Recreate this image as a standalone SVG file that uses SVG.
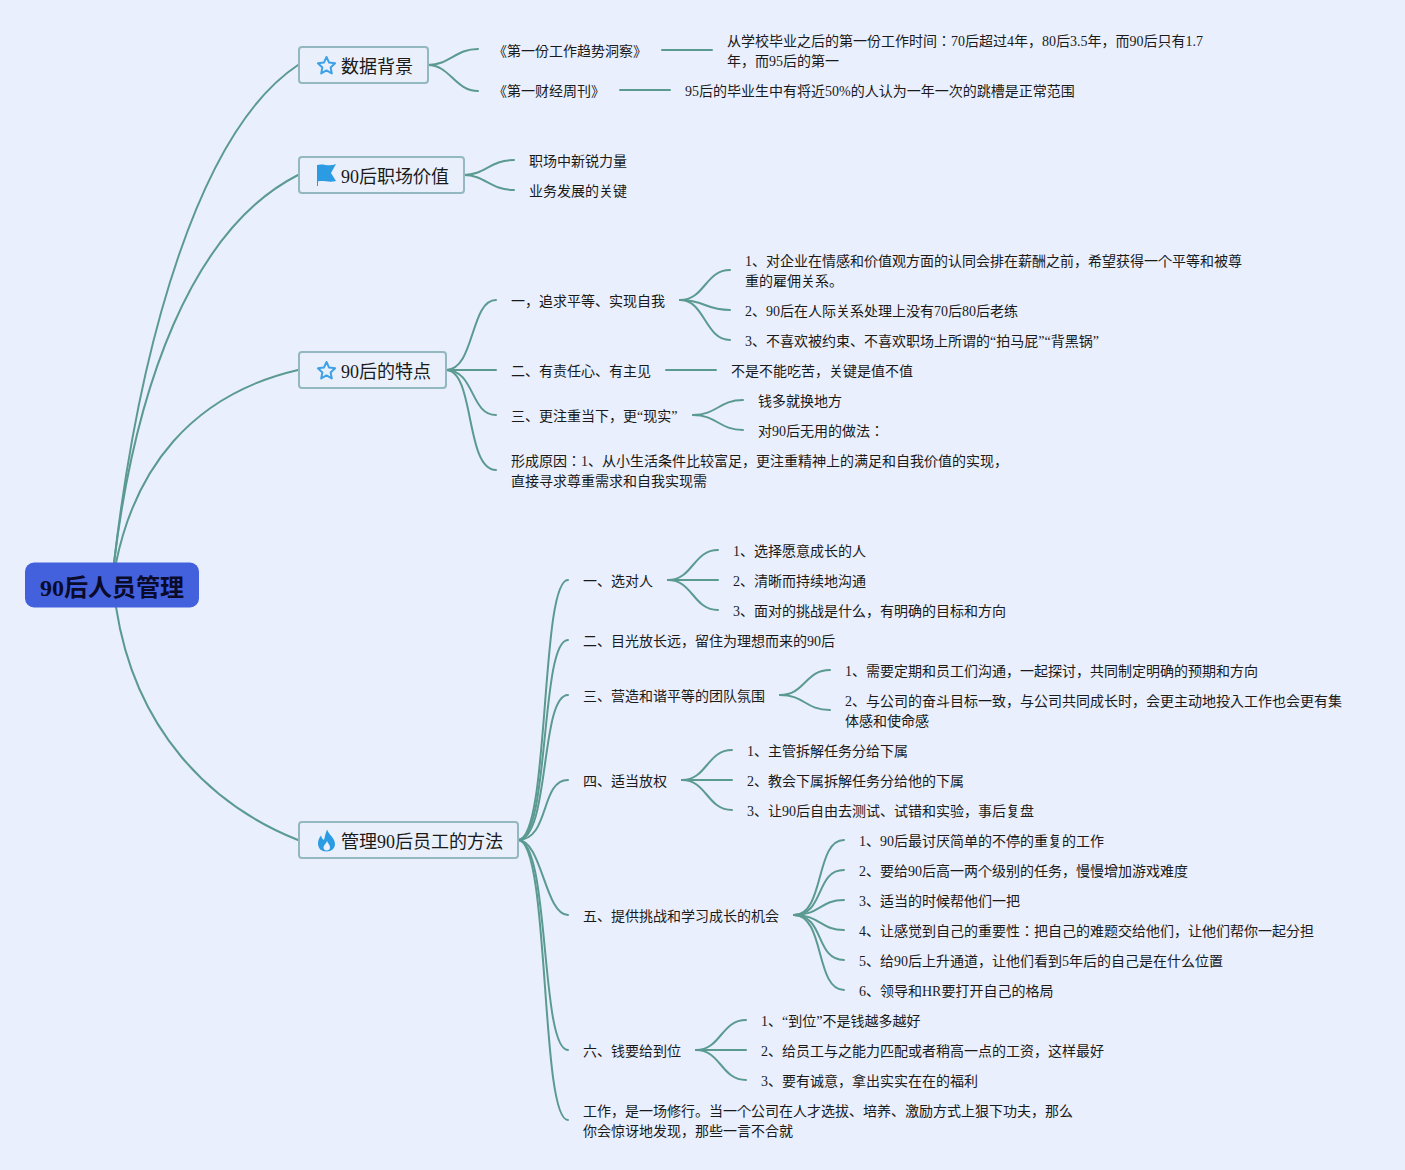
<svg xmlns="http://www.w3.org/2000/svg" width="1405" height="1170" viewBox="0 0 1405 1170">
<defs>
<style>
text{font-family:"Liberation Serif","Noto Sans CJK JP",serif;fill:#1a1a1a}
.t{font-size:14px}
.h{font-size:18px}
.r{font-size:24px;font-weight:bold;fill:#0a0a2a}
.box{fill:#e9f0fc;stroke:#94b8bf;stroke-width:2}
#links path{fill:none;stroke:#5b9a91;stroke-width:2;stroke-linecap:round}
.icon{fill:#2b9be3}
.star{fill:none;stroke:#3ea0e6;stroke-width:2;stroke-linejoin:round}
</style>
<path id="star" class="star" d="M0-8.500 2.600-2.900 8.600-2.200 4.100 1.900 5.300 7.900 0 4.900-5.300 7.900-4.100 1.900-8.600-2.200-2.600-2.900Z"/>
</defs>
<rect width="1405" height="1170" fill="#e9effd"/>
<g id="links">
<path d="M114 563C140 340 200 130 298 65"/>
<path d="M114 563C135 390 190 230 298 175"/>
<path d="M116 563C135 470 190 395 298 370"/>
<path d="M116 607C135 730 210 805 298 840"/>
<path d="M428 65C450 65 455 49 478 49"/>
<path d="M428 65C450 65 455 91 478 91"/>
<path d="M662 50H712"/>
<path d="M620 90H670"/>
<path d="M464 175C485 175 490 160 514 160"/>
<path d="M464 175C485 175 490 190 514 190"/>
<path d="M446 370C475 370 470 300 496 300"/>
<path d="M446 370H496"/>
<path d="M446 370C475 370 470 415 496 415"/>
<path d="M446 370C475 370 465 470 496 470"/>
<path d="M680 300C705 300 705 270 730 270"/>
<path d="M680 300C705 300 705 310 730 310"/>
<path d="M680 300C705 300 705 340 730 340"/>
<path d="M666 370H716"/>
<path d="M693 415C717 415 719 400 743 400"/>
<path d="M693 415C717 415 719 430 743 430"/>
<path d="M518 840C550 840 540 580 568 580"/>
<path d="M518 840C550 840 540 640 568 640"/>
<path d="M518 840C550 840 540 695 568 695"/>
<path d="M518 840C550 840 540 780 568 780"/>
<path d="M518 840C542 840 545 915 568 915"/>
<path d="M518 840C550 840 540 1050 568 1050"/>
<path d="M518 840C550 840 540 1120 568 1120"/>
<path d="M668 580C693 580 693 550 718 550"/>
<path d="M668 580H718"/>
<path d="M668 580C693 580 693 610 718 610"/>
<path d="M780 695C805 695 805 670 830 670"/>
<path d="M780 695C805 695 805 710 830 710"/>
<path d="M682 780C707 780 707 750 732 750"/>
<path d="M682 780H732"/>
<path d="M682 780C707 780 707 810 732 810"/>
<path d="M794 915C825 915 815 840 844 840"/>
<path d="M794 915C825 915 815 870 844 870"/>
<path d="M794 915C820 915 820 900 844 900"/>
<path d="M794 915C820 915 820 930 844 930"/>
<path d="M794 915C825 915 815 960 844 960"/>
<path d="M794 915C825 915 815 990 844 990"/>
<path d="M696 1050C721 1050 721 1020 746 1020"/>
<path d="M696 1050H746"/>
<path d="M696 1050C721 1050 721 1080 746 1080"/>
</g>
<g id="root"><rect x="25" y="562.500" width="174" height="45" rx="9" fill="#4361dd"/><text class="r" x="40" y="596">90后人员管理</text></g>
<g id="n1"><rect class="box" x="299" y="47" width="129" height="36" rx="3"/><use href="#star" x="326.500" y="65.500"/><text class="h" x="341" y="73">数据背景</text></g>
<g id="n2"><rect class="box" x="299" y="157" width="165" height="36" rx="3"/><path class="icon" d="M317 165C323 163 329 167 336 164L331 173 336 181C329 183 323 180 318 181.500V186H317Z"/><text class="h" x="341" y="183">90后职场价值</text></g>
<g id="n3"><rect class="box" x="299" y="352" width="147" height="36" rx="3"/><use href="#star" x="326.500" y="370.500"/><text class="h" x="341" y="378">90后的特点</text></g>
<g id="n4"><rect class="box" x="299" y="822" width="219" height="36" rx="3"/><path class="icon" fill-rule="evenodd" d="M327 829.500C329 835 335 838 335 844 335 848.500 331.500 851.500 326.500 851.500 321.500 851.500 318 848.500 318 843.500 318 840 319.500 837.500 321 835.500 321.500 837.500 322.500 839 324 840 325 836.500 325.500 833 327 829.500ZM327 841C326.500 843.500 323.500 845 323.500 847.500 323.500 849.500 325 850.500 326.500 850.500 328.500 850.500 330 849.500 330 847.500 330 845 328 843.500 327 841Z"/><text class="h" x="341" y="848">管理90后员工的方法</text></g>
<g id="labels">
<text class="t" x="493" y="56">《第一份工作趋势洞察》</text>
<text class="t" x="727" y="46">从学校毕业之后的第一份工作时间：70后超过4年，80后3.5年，而90后只有1.7</text>
<text class="t" x="727" y="66">年，而95后的第一</text>
<text class="t" x="493" y="96">《第一财经周刊》</text>
<text class="t" x="685" y="96">95后的毕业生中有将近50%的人认为一年一次的跳槽是正常范围</text>
<text class="t" x="529" y="166">职场中新锐力量</text>
<text class="t" x="529" y="196">业务发展的关键</text>
<text class="t" x="511" y="306">一，追求平等、实现自我</text>
<text class="t" x="745" y="266">1、对企业在情感和价值观方面的认同会排在薪酬之前，希望获得一个平等和被尊</text>
<text class="t" x="745" y="286">重的雇佣关系。</text>
<text class="t" x="745" y="316">2、90后在人际关系处理上没有70后80后老练</text>
<text class="t" x="745" y="346">3、不喜欢被约束、不喜欢职场上所谓的“拍马屁”“背黑锅”</text>
<text class="t" x="511" y="376">二、有责任心、有主见</text>
<text class="t" x="731" y="376">不是不能吃苦，关键是值不值</text>
<text class="t" x="511" y="421">三、更注重当下，更“现实”</text>
<text class="t" x="758" y="406">钱多就换地方</text>
<text class="t" x="758" y="436">对90后无用的做法：</text>
<text class="t" x="511" y="466">形成原因：1、从小生活条件比较富足，更注重精神上的满足和自我价值的实现，</text>
<text class="t" x="511" y="486">直接寻求尊重需求和自我实现需</text>
<text class="t" x="583" y="586">一、选对人</text>
<text class="t" x="733" y="556">1、选择愿意成长的人</text>
<text class="t" x="733" y="586">2、清晰而持续地沟通</text>
<text class="t" x="733" y="616">3、面对的挑战是什么，有明确的目标和方向</text>
<text class="t" x="583" y="646">二、目光放长远，留住为理想而来的90后</text>
<text class="t" x="583" y="701">三、营造和谐平等的团队氛围</text>
<text class="t" x="845" y="676">1、需要定期和员工们沟通，一起探讨，共同制定明确的预期和方向</text>
<text class="t" x="845" y="706">2、与公司的奋斗目标一致，与公司共同成长时，会更主动地投入工作也会更有集</text>
<text class="t" x="845" y="726">体感和使命感</text>
<text class="t" x="583" y="786">四、适当放权</text>
<text class="t" x="747" y="756">1、主管拆解任务分给下属</text>
<text class="t" x="747" y="786">2、教会下属拆解任务分给他的下属</text>
<text class="t" x="747" y="816">3、让90后自由去测试、试错和实验，事后复盘</text>
<text class="t" x="583" y="921">五、提供挑战和学习成长的机会</text>
<text class="t" x="859" y="846">1、90后最讨厌简单的不停的重复的工作</text>
<text class="t" x="859" y="876">2、要给90后高一两个级别的任务，慢慢增加游戏难度</text>
<text class="t" x="859" y="906">3、适当的时候帮他们一把</text>
<text class="t" x="859" y="936">4、让感觉到自己的重要性：把自己的难题交给他们，让他们帮你一起分担</text>
<text class="t" x="859" y="966">5、给90后上升通道，让他们看到5年后的自己是在什么位置</text>
<text class="t" x="859" y="996">6、领导和HR要打开自己的格局</text>
<text class="t" x="583" y="1056">六、钱要给到位</text>
<text class="t" x="761" y="1026">1、“到位”不是钱越多越好</text>
<text class="t" x="761" y="1056">2、给员工与之能力匹配或者稍高一点的工资，这样最好</text>
<text class="t" x="761" y="1086">3、要有诚意，拿出实实在在的福利</text>
<text class="t" x="583" y="1116">工作，是一场修行。当一个公司在人才选拔、培养、激励方式上狠下功夫，那么</text>
<text class="t" x="583" y="1136">你会惊讶地发现，那些一言不合就</text>
</g>
</svg>
